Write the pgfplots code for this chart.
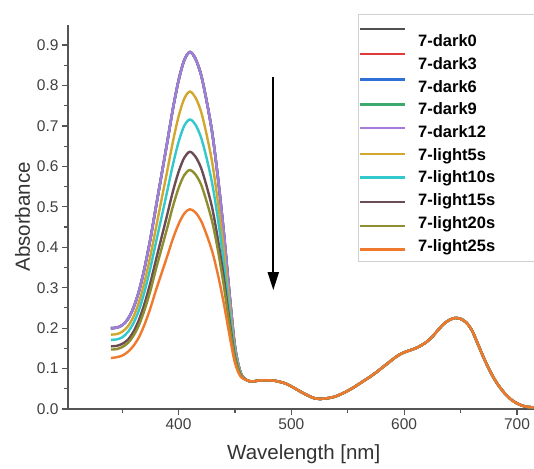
\documentclass[border=0pt]{standalone}
\usepackage{fontspec}
\setmainfont{Liberation Sans}
\usepackage{pgfplots}
\usepackage{pgfplotstable}
\pgfplotsset{compat=1.18}
\usetikzlibrary{arrows.meta}

% series colours
\definecolor{cDarkA}{HTML}{505050}
\definecolor{cDarkB}{HTML}{E03A3A}
\definecolor{cDarkC}{HTML}{2F6FD6}
\definecolor{cDarkD}{HTML}{3DAA6D}
\definecolor{cDarkE}{HTML}{A57BDB}
\definecolor{cLightA}{HTML}{D2A730}
\definecolor{cLightB}{HTML}{33C8CC}
\definecolor{cLightC}{HTML}{6B4C55}
\definecolor{cLightD}{HTML}{8E8E2E}
\definecolor{cLightE}{HTML}{EF7A2E}
\definecolor{axisgray}{HTML}{555555}
\definecolor{tickgray}{HTML}{404040}
\definecolor{labelgray}{HTML}{333333}
\definecolor{legendgray}{HTML}{D0D0D0}

% UV-vis spectra: wavelength [nm] and absorbance of each sample
\pgfplotstableread{
nm   dA    dB    dC    dD    dE    lA    lB    lC    lD    lE
340 0.200 0.200 0.200 0.200 0.200 0.184 0.171 0.155 0.147 0.126
345 0.201 0.201 0.201 0.201 0.201 0.185 0.172 0.156 0.148 0.128
350 0.207 0.207 0.207 0.207 0.207 0.191 0.177 0.161 0.153 0.132
355 0.222 0.222 0.222 0.222 0.222 0.204 0.190 0.171 0.163 0.141
360 0.250 0.250 0.250 0.250 0.250 0.228 0.212 0.191 0.181 0.156
365 0.292 0.292 0.292 0.292 0.292 0.265 0.245 0.221 0.208 0.178
370 0.350 0.350 0.350 0.350 0.350 0.316 0.292 0.262 0.246 0.210
375 0.420 0.420 0.420 0.420 0.420 0.378 0.348 0.312 0.292 0.249
380 0.500 0.500 0.500 0.500 0.500 0.448 0.412 0.369 0.346 0.294
385 0.580 0.580 0.580 0.580 0.580 0.519 0.475 0.425 0.397 0.336
390 0.660 0.660 0.660 0.660 0.660 0.589 0.539 0.481 0.448 0.378
395 0.742 0.742 0.742 0.742 0.742 0.661 0.604 0.538 0.501 0.421
400 0.812 0.812 0.812 0.812 0.812 0.723 0.660 0.586 0.546 0.457
405 0.862 0.862 0.862 0.862 0.862 0.767 0.700 0.621 0.578 0.483
410 0.883 0.883 0.883 0.883 0.883 0.785 0.716 0.636 0.591 0.494
415 0.866 0.866 0.866 0.866 0.866 0.770 0.703 0.624 0.580 0.486
420 0.826 0.826 0.826 0.826 0.826 0.735 0.671 0.596 0.555 0.465
425 0.760 0.760 0.760 0.760 0.760 0.677 0.619 0.550 0.512 0.430
430 0.680 0.680 0.680 0.680 0.680 0.607 0.555 0.495 0.461 0.388
435 0.570 0.570 0.570 0.570 0.570 0.510 0.468 0.418 0.391 0.331
440 0.440 0.440 0.440 0.440 0.440 0.396 0.364 0.328 0.307 0.263
445 0.290 0.290 0.290 0.290 0.290 0.264 0.245 0.223 0.211 0.185
450 0.155 0.155 0.155 0.155 0.155 0.145 0.138 0.129 0.125 0.114
455 0.090 0.090 0.090 0.090 0.090 0.088 0.086 0.084 0.083 0.080
460 0.072 0.072 0.072 0.072 0.072 0.072 0.072 0.072 0.072 0.072
465 0.068 0.068 0.068 0.068 0.068 0.068 0.068 0.068 0.068 0.068
470 0.070 0.070 0.070 0.070 0.070 0.070 0.070 0.070 0.070 0.070
475 0.071 0.071 0.071 0.071 0.071 0.071 0.071 0.071 0.071 0.071
480 0.071 0.071 0.071 0.071 0.071 0.071 0.071 0.071 0.071 0.071
485 0.070 0.070 0.070 0.070 0.070 0.070 0.070 0.070 0.070 0.070
490 0.067 0.067 0.067 0.067 0.067 0.067 0.067 0.067 0.067 0.067
495 0.063 0.063 0.063 0.063 0.063 0.063 0.063 0.063 0.063 0.063
500 0.056 0.056 0.056 0.056 0.056 0.056 0.056 0.056 0.056 0.056
505 0.048 0.048 0.048 0.048 0.048 0.048 0.048 0.048 0.048 0.048
510 0.040 0.040 0.040 0.040 0.040 0.040 0.040 0.040 0.040 0.040
515 0.033 0.033 0.033 0.033 0.033 0.033 0.033 0.033 0.033 0.033
520 0.027 0.027 0.027 0.027 0.027 0.027 0.027 0.027 0.027 0.027
525 0.025 0.025 0.025 0.025 0.025 0.025 0.025 0.025 0.025 0.025
530 0.026 0.026 0.026 0.026 0.026 0.026 0.026 0.026 0.026 0.026
535 0.028 0.028 0.028 0.028 0.028 0.028 0.028 0.028 0.028 0.028
540 0.032 0.032 0.032 0.032 0.032 0.032 0.032 0.032 0.032 0.032
545 0.038 0.038 0.038 0.038 0.038 0.038 0.038 0.038 0.038 0.038
550 0.045 0.045 0.045 0.045 0.045 0.045 0.045 0.045 0.045 0.045
555 0.053 0.053 0.053 0.053 0.053 0.053 0.053 0.053 0.053 0.053
560 0.062 0.062 0.062 0.062 0.062 0.062 0.062 0.062 0.062 0.062
565 0.071 0.071 0.071 0.071 0.071 0.071 0.071 0.071 0.071 0.071
570 0.080 0.080 0.080 0.080 0.080 0.080 0.080 0.080 0.080 0.080
575 0.090 0.090 0.090 0.090 0.090 0.090 0.090 0.090 0.090 0.090
580 0.101 0.101 0.101 0.101 0.101 0.101 0.101 0.101 0.101 0.101
585 0.112 0.112 0.112 0.112 0.112 0.112 0.112 0.112 0.112 0.112
590 0.123 0.123 0.123 0.123 0.123 0.123 0.123 0.123 0.123 0.123
595 0.133 0.133 0.133 0.133 0.133 0.133 0.133 0.133 0.133 0.133
600 0.140 0.140 0.140 0.140 0.140 0.140 0.140 0.140 0.140 0.140
605 0.145 0.145 0.145 0.145 0.145 0.145 0.145 0.145 0.145 0.145
610 0.150 0.150 0.150 0.150 0.150 0.150 0.150 0.150 0.150 0.150
615 0.157 0.157 0.157 0.157 0.157 0.157 0.157 0.157 0.157 0.157
620 0.166 0.166 0.166 0.166 0.166 0.166 0.166 0.166 0.166 0.166
625 0.179 0.179 0.179 0.179 0.179 0.179 0.179 0.179 0.179 0.179
630 0.195 0.195 0.195 0.195 0.195 0.195 0.195 0.195 0.195 0.195
635 0.210 0.210 0.210 0.210 0.210 0.210 0.210 0.210 0.210 0.210
640 0.220 0.220 0.220 0.220 0.220 0.220 0.220 0.220 0.220 0.220
645 0.225 0.225 0.225 0.225 0.225 0.225 0.225 0.225 0.225 0.225
650 0.223 0.223 0.223 0.223 0.223 0.223 0.223 0.223 0.223 0.223
655 0.214 0.214 0.214 0.214 0.214 0.214 0.214 0.214 0.214 0.214
660 0.195 0.195 0.195 0.195 0.195 0.195 0.195 0.195 0.195 0.195
665 0.163 0.163 0.163 0.163 0.163 0.163 0.163 0.163 0.163 0.163
670 0.130 0.130 0.130 0.130 0.130 0.130 0.130 0.130 0.130 0.130
675 0.100 0.100 0.100 0.100 0.100 0.100 0.100 0.100 0.100 0.100
680 0.074 0.074 0.074 0.074 0.074 0.074 0.074 0.074 0.074 0.074
685 0.053 0.053 0.053 0.053 0.053 0.053 0.053 0.053 0.053 0.053
690 0.036 0.036 0.036 0.036 0.036 0.036 0.036 0.036 0.036 0.036
695 0.023 0.023 0.023 0.023 0.023 0.023 0.023 0.023 0.023 0.023
700 0.014 0.014 0.014 0.014 0.014 0.014 0.014 0.014 0.014 0.014
705 0.008 0.008 0.008 0.008 0.008 0.008 0.008 0.008 0.008 0.008
710 0.005 0.005 0.005 0.005 0.005 0.005 0.005 0.005 0.005 0.005
715 0.004 0.004 0.004 0.004 0.004 0.004 0.004 0.004 0.004 0.004
720 0.003 0.003 0.003 0.003 0.003 0.003 0.003 0.003 0.003 0.003
}\spectra

% legend sample: a short line drawn a little above or below its label
\pgfplotsset{
  legline/.style={legend image code/.code={%
      \path[draw=none, fill=none] (0pt,0pt) -- (45pt,0pt);
      \draw[##1, overlay] (0pt,#1) -- (45pt,#1);}},
  spec/.style={smooth, no markers, line width=2.4pt, line join=round},
}

\begin{document}
\begin{tikzpicture}
\begin{axis}[
  scale only axis,
  width=471.5pt, height=384.2pt,
  xmin=302, xmax=720, ymin=0, ymax=0.95,
  axis lines*=left,
  axis line style={draw=axisgray, line width=1.2pt},
  xtick={400,500,600,700},
  minor xtick={350,450,550,650},
  ytick={0,0.1,0.2,0.3,0.4,0.5,0.6,0.7,0.8,0.9},
  minor ytick={0.05,0.15,0.25,0.35,0.45,0.55,0.65,0.75,0.85},
  tick align=outside,
  major tick length=6pt, minor tick length=3.5pt,
  tick style={draw=axisgray, line width=1.2pt},
  /pgf/number format/assume math mode=true,
  ticklabel style={font=\fontsize{15.5}{17}\selectfont, text=tickgray},
  yticklabel style={/pgf/number format/.cd, fixed, fixed zerofill, precision=1},
  xticklabel style={/pgf/number format/.cd, fixed, precision=0},
  scaled ticks=false,
  xlabel={Wavelength [nm]}, ylabel={Absorbance},
  label style={font=\fontsize{20.5}{23}\selectfont, text=labelgray},
  xlabel style={yshift=-8pt},
  legend style={
    draw=none, fill=none, inner sep=0pt,
    at={(0.6193,0.9695)}, anchor=north west,
    font=\fontsize{16.5}{18}\selectfont\bfseries,
    row sep=9.7pt, column sep=13pt,
    cells={anchor=west},
    nodes={inner sep=0pt, text height=10pt, text depth=3pt},
  },
]
\coordinate (O) at (rel axis cs:0,0);

\addplot[spec, color=cDarkA, legline=14pt] table[x=nm, y=dA] {\spectra};
\addlegendentry{7-dark0}
\addplot[spec, color=cDarkB, legline=12pt] table[x=nm, y=dB] {\spectra};
\addlegendentry{7-dark3}
\addplot[spec, color=cDarkC, legline=9pt] table[x=nm, y=dC] {\spectra};
\addlegendentry{7-dark6}
\addplot[spec, color=cDarkD, legline=7pt] table[x=nm, y=dD] {\spectra};
\addlegendentry{7-dark9}
\addplot[spec, color=cDarkE, legline=6pt] table[x=nm, y=dE] {\spectra};
\addlegendentry{7-dark12}
\addplot[spec, color=cLightA, legline=3pt] table[x=nm, y=lA] {\spectra};
\addlegendentry{7-light5s}
\addplot[spec, color=cLightB, legline=2pt] table[x=nm, y=lB] {\spectra};
\addlegendentry{7-light10s}
\addplot[spec, color=cLightC, legline=0pt] table[x=nm, y=lC] {\spectra};
\addlegendentry{7-light15s}
\addplot[spec, color=cLightD, legline=-1pt] table[x=nm, y=lD] {\spectra};
\addlegendentry{7-light20s}
\addplot[spec, color=cLightE, legline=-2pt] table[x=nm, y=lE] {\spectra};
\addlegendentry{7-light25s}

% direction of change under illumination
\draw[black, line width=2pt, -{Triangle[length=18pt, width=11pt]}]
  (axis cs:484,0.82) -- (axis cs:484,0.294);
\end{axis}

% frame around the legend, running off the right edge
\draw[draw=legendgray, line width=1pt]
  ([shift={(290pt,147pt)}]O) rectangle ([shift={(485pt,394pt)}]O);

\pgfresetboundingbox
\path[use as bounding box] ([shift={(-68pt,-59pt)}]O) rectangle ([shift={(466pt,409pt)}]O);
\end{tikzpicture}
\end{document}
